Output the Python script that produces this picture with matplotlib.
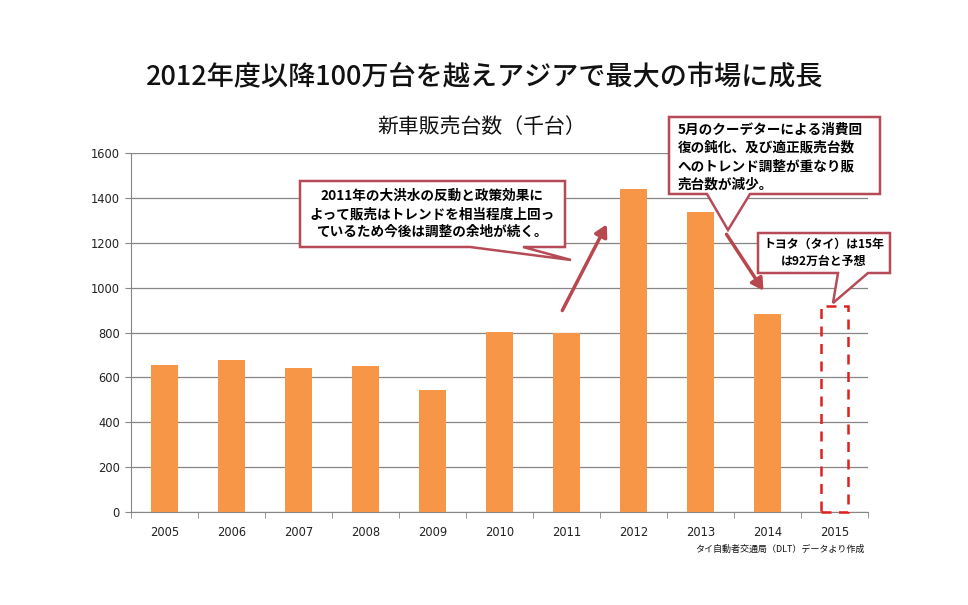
import numpy as np
import matplotlib.pyplot as plt
from matplotlib.patches import Polygon, Rectangle, FancyArrowPatch

plt.rcParams['font.family'] = ['Noto Sans CJK JP', 'DejaVu Sans']

years = ["2005", "2006", "2007", "2008", "2009", "2010", "2011", "2012", "2013", "2014", "2015"]
sales = [655, 677, 641, 650, 543, 802, 800, 1440, 1337, 882]
forecast_2015 = 920
y_ticks = [0, 200, 400, 600, 800, 1000, 1200, 1400, 1600]

W, H = 968, 605
fig = plt.figure(figsize=(W / 100, H / 100), dpi=100)


def px(x, y):
    # pixel position (top-left origin) -> figure fraction
    return x / W, 1 - y / H


ax = fig.add_axes([131 / W, 1 - 512 / H, (868 - 131) / W, (512 - 153) / H])
x = np.arange(len(sales))
ax.bar(x, sales, width=0.4, color="#F79646", zorder=3)
ax.add_patch(Rectangle((len(sales) - 0.2, 0), 0.4, forecast_2015, fill=False,
                       edgecolor="#E0201E", linestyle=(0, (4, 3)), linewidth=1.8,
                       zorder=3, clip_on=False))

ax.set_xlim(-0.5, len(years) - 0.5)
ax.set_ylim(0, 1600)
ax.set_yticks(y_ticks)
ax.set_yticklabels([str(v) for v in y_ticks], fontsize=8.3, color="#222222", family="DejaVu Sans")
ax.set_xticks(np.arange(len(years)))
ax.set_xticklabels(years, fontsize=8.3, color="#222222", family="DejaVu Sans")
ax.set_xticks(np.arange(len(years) + 1) - 0.5, minor=True)
ax.tick_params(axis="x", which="major", length=0, pad=10)
ax.tick_params(axis="x", which="minor", length=4, color="#868686")
ax.tick_params(axis="y", length=4, color="#868686", pad=4)
ax.grid(axis="y", color="#868686", linewidth=0.9, zorder=0)
for side in ["top", "right"]:
    ax.spines[side].set_visible(False)
for side in ["left", "bottom"]:
    ax.spines[side].set_color("#868686")

fig.text(*px(485, 78), "2012年度以降100万台を越えアジアで最大の市場に成長",
         fontsize=19.5, fontweight="medium", ha="center", va="center", color="#111111")
fig.text(*px(482, 127), "新車販売台数（千台）", fontsize=15,
         ha="center", va="center", color="#111111")
fig.text(*px(865, 549), "タイ自動者交通局（DLT）データより作成", fontsize=6.5,
         ha="right", va="center", color="#111111")


def callout(box, base, tip):
    x0, y0, x1, y1 = box
    pts = [(x0, y0), (x1, y0), (x1, y1), (base[1], y1), tip, (base[0], y1), (x0, y1)]
    poly = Polygon([px(*p) for p in pts], closed=True, transform=fig.transFigure,
                   facecolor="white", edgecolor="#B64B57", linewidth=1.8, zorder=10)
    fig.add_artist(poly)


callout((300, 181, 565, 247), (470, 523), (571, 260))
fig.text(*px(432, 214), "2011年の大洪水の反動と政策効果に\nよって販売はトレンドを相当程度上回っ\n"
         "ているため今後は調整の余地が続く。", fontsize=9.8, fontweight="bold",
         ha="center", va="center", linespacing=1.35, zorder=11)

callout((669, 117, 880, 194), (707, 750), (728, 230))
fig.text(*px(678, 157), "5月のクーデターによる消費回\n復の鈍化、及び適正販売台数\n"
         "へのトレンド調整が重なり販\n売台数が減少。", fontsize=9.8, fontweight="bold",
         ha="left", va="center", linespacing=1.4, zorder=11)

callout((758, 233, 890, 273), (838, 868), (833, 303))
fig.text(*px(824, 253), "トヨタ（タイ）は15年\nは92万台と予想", fontsize=8.6,
         fontweight="bold", ha="center", va="center", linespacing=1.4, zorder=11)

for start, end in [((561, 313), (608, 222)), ((725, 232), (765, 293))]:
    arr = FancyArrowPatch(px(*start), px(*end), transform=fig.transFigure,
                          arrowstyle="-|>,head_length=7,head_width=4",
                          color="#B9474E", linewidth=2.5, zorder=9)
    fig.add_artist(arr)

fig.savefig("out.png", dpi=100)
